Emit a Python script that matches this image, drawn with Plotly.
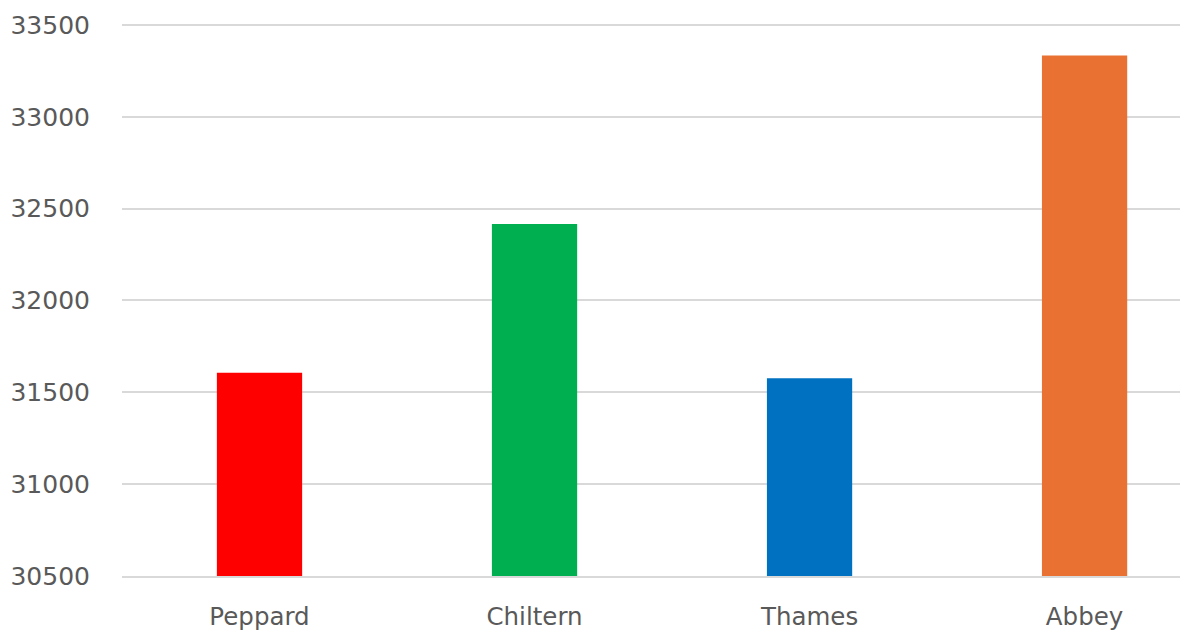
import plotly.graph_objects as go

categories = ["Peppard", "Chiltern", "Thames", "Abbey"]
values = [31607, 32417, 31576, 33334]
colors = ["#FF0000", "#00B050", "#0070C0", "#E97132"]
y_ticks = [30500, 31000, 31500, 32000, 32500, 33000, 33500]

fig = go.Figure(
    go.Bar(
        x=categories,
        y=values,
        marker=dict(color=colors, line=dict(width=0)),
        width=0.31,
    )
)

font_family = "DejaVu Sans"
grey = "#595959"

fig.update_layout(
    width=1180,
    height=630,
    margin=dict(l=122, r=0, t=10, b=53.5),
    paper_bgcolor="white",
    plot_bgcolor="white",
    showlegend=False,
    font=dict(family=font_family, color=grey, size=24),
)

fig.update_xaxes(
    range=[-0.5, 3.347],
    showgrid=False,
    showline=True,
    linecolor="#d9d9d9",
    linewidth=1.5,
    ticks="",
    tickfont=dict(family=font_family, size=24.5, color=grey),
    ticklabelstandoff=18,
)

fig.update_yaxes(
    range=[30500, 33581.6],
    tickvals=y_ticks,
    ticktext=[str(v) for v in y_ticks],
    showgrid=True,
    gridcolor="#d9d9d9",
    gridwidth=1.5,
    zeroline=False,
    showline=False,
    ticks="",
    tickfont=dict(family=font_family, size=25, color=grey),
    ticklabelstandoff=31,
)

fig.write_html(
    "out.html",
    config={"displayModeBar": False},
    post_script="document.body.style.margin='0';document.body.style.overflow='hidden';",
)
